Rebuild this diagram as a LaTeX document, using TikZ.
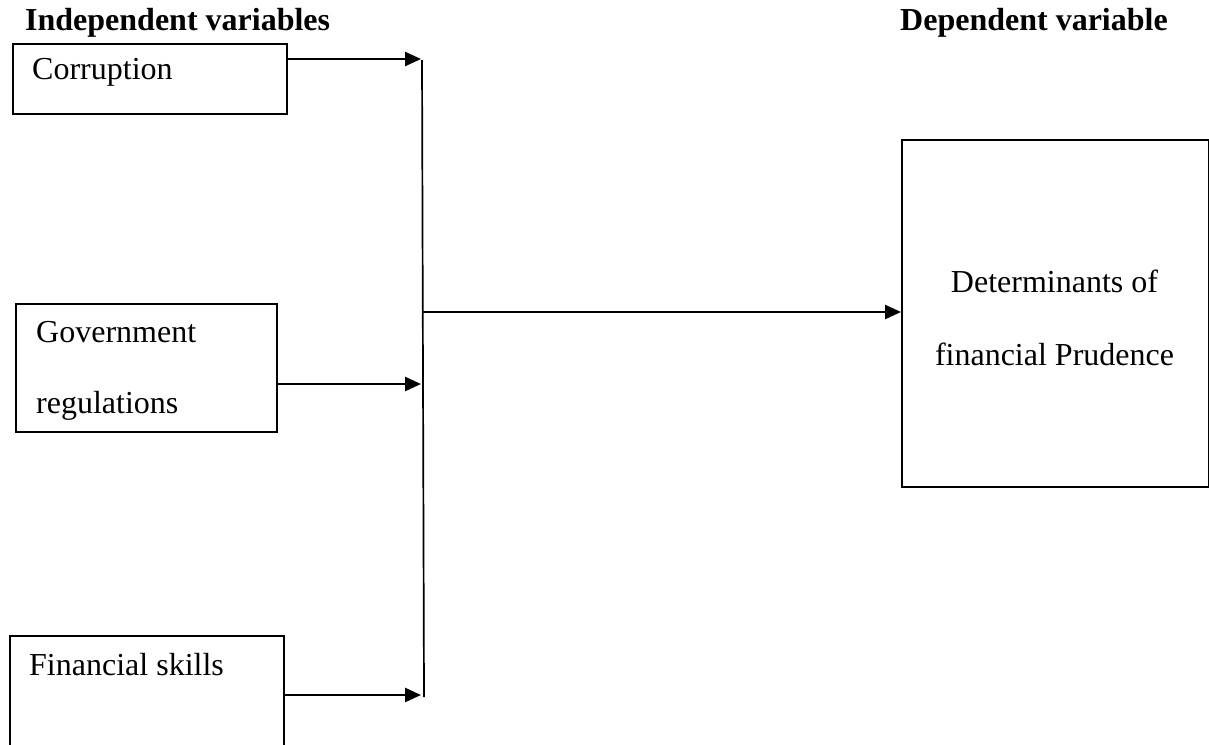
\documentclass[tikz,border=0pt]{standalone}
\usepackage{fontspec}
\setmainfont{Liberation Serif}
\usetikzlibrary{arrows.meta}
\tikzset{
  box/.style={draw, line width=2pt, inner sep=0pt, anchor=north west},
  txt/.style={inner sep=0pt, anchor=base west, font=\fontsize{32}{38}\selectfont},
  head/.style={inner sep=0pt, anchor=base west, font=\fontsize{32}{38}\selectfont\bfseries},
  arr/.style={line width=2.6pt, -{Triangle[length=16pt,width=14pt]}},
  bus/.style={line width=1.7pt}
}
\begin{document}
\begin{tikzpicture}[x=1pt,y=-1pt]
\useasboundingbox (0,0) rectangle (1209,744);
\clip (0,0) rectangle (1209,744);
% headings
\node[head] (hind) at (25,30) {Independent variables};
\node[head] (hdep) at (900,30) {Dependent variable};
% boxes
\node[box, minimum width=274pt, minimum height=70pt] (cor) at (12,43) {};
\node[txt] (cort) at (32,79) {Corruption};
\node[box, minimum width=261pt, minimum height=128pt] (gov) at (15,303) {};
\node[txt] (govt1) at (36,342) {Government};
\node[txt] (govt2) at (36,413) {regulations};
\node[box, minimum width=274pt, minimum height=130pt] (fin) at (9,635) {};
\node[txt] (fint) at (29,675) {Financial skills};
\node[box, minimum width=307pt, minimum height=347pt] (dep) at (901,139) {};
\node[txt, anchor=base] (dept1) at (1054.5,292) {Determinants of};
\node[txt, anchor=base] (dept2) at (1054.5,365) {financial Prudence};
% bus
\coordinate (bt) at (422,60);
\coordinate (bb) at (424,697);
\coordinate (bm) at (423,312);
\coordinate (j1) at (421,59);
\coordinate (j2) at (421,384);
\coordinate (j3) at (421,695);
\draw[bus] (bt) -- (bb);
\draw[arr] (cor.east |- j1) -- (j1);
\draw[arr] (gov.east |- j2) -- (j2);
\draw[arr] (fin.east |- j3) -- (j3);
\draw[arr] (bm) -- (dep.west |- bm);
\end{tikzpicture}
\end{document}
